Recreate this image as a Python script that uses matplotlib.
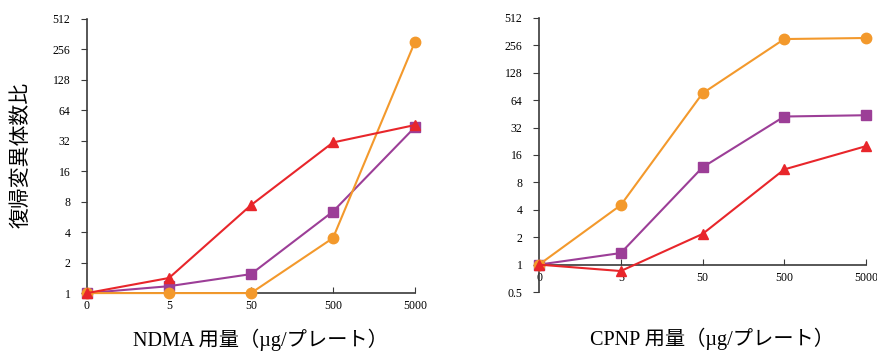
import numpy as np
import matplotlib.pyplot as plt
from matplotlib.ticker import FixedLocator, FixedFormatter, NullLocator

plt.rcParams['font.family'] = ['Liberation Serif', 'Noto Sans CJK JP']

doses = ['0', '5', '50', '500', '5000']

# NDMA
ndma_square = [1, 1.17, 1.54, 6.4, 43.7]
ndma_circle = [1, 1, 1, 3.5, 305]
ndma_triangle = [1, 1.41, 7.4, 30.8, 45.8]

# CPNP
cpnp_square = [1, 1.34, 11.7, 42.3, 43.7]
cpnp_circle = [1, 4.5, 76, 300, 308]
cpnp_triangle = [1, 0.85, 2.17, 11.1, 20]

left_ticks = [1, 2, 4, 8, 16, 32, 64, 128, 256, 512]
right_ticks = [0.5] + left_ticks

c_purple = '#9C3E97'
c_orange = '#F3992C'
c_red = '#E8262B'
c_axis = '#3a3a3a'

fig = plt.figure(figsize=(8.77, 3.51), dpi=100)
ax1 = fig.add_axes([0.0992, 0.165, 0.374, 0.781])
ax2 = fig.add_axes([0.6146, 0.168, 0.3729, 0.781])


def draw(ax, sq, ci, tr, ticks, ylo, xlabel):
    x = np.arange(len(doses))
    ax.plot(x, sq, color=c_purple, lw=1.5, marker='s', ms=7.5, clip_on=False, zorder=3)
    ax.plot(x, ci, color=c_orange, lw=1.5, marker='o', ms=7.5, clip_on=False, zorder=4)
    ax.plot(x, tr, color=c_red, lw=1.5, marker='^', ms=7.5, clip_on=False, zorder=5)
    ax.set_yscale('log', base=2)
    ax.set_ylim(ylo, 512)
    ax.set_xlim(0, 4)
    ax.yaxis.set_major_locator(FixedLocator(ticks))
    ax.yaxis.set_major_formatter(FixedFormatter([('%g' % t) for t in ticks]))
    ax.yaxis.set_minor_locator(NullLocator())
    ax.set_xticks(x)
    ax.set_xticklabels(doses)
    for s in ['top', 'right']:
        ax.spines[s].set_visible(False)
    ax.spines['bottom'].set_position(('data', 1))
    for s in ['left', 'bottom']:
        ax.spines[s].set_color(c_axis)
        ax.spines[s].set_linewidth(1.2)
    ax.tick_params(axis='y', direction='out', length=4, color=c_axis, labelsize=8.5, pad=8)
    ax.tick_params(axis='x', direction='in', length=4, color=c_axis, labelsize=8.5, pad=5)
    ax.set_xlabel(xlabel, fontsize=14.6)
    ax.xaxis.set_label_coords(0.53, -0.13)


draw(ax1, ndma_square, ndma_circle, ndma_triangle, left_ticks, 1, 'NDMA 用量（µg/プレート）')
draw(ax2, cpnp_square, cpnp_circle, cpnp_triangle, right_ticks, 0.5, 'CPNP 用量（µg/プレート）')

fig.text(0.025, 0.56, '復帰変異体数比', rotation=90, fontsize=15, ha='center', va='center')

fig.savefig('out.png', dpi=100)
